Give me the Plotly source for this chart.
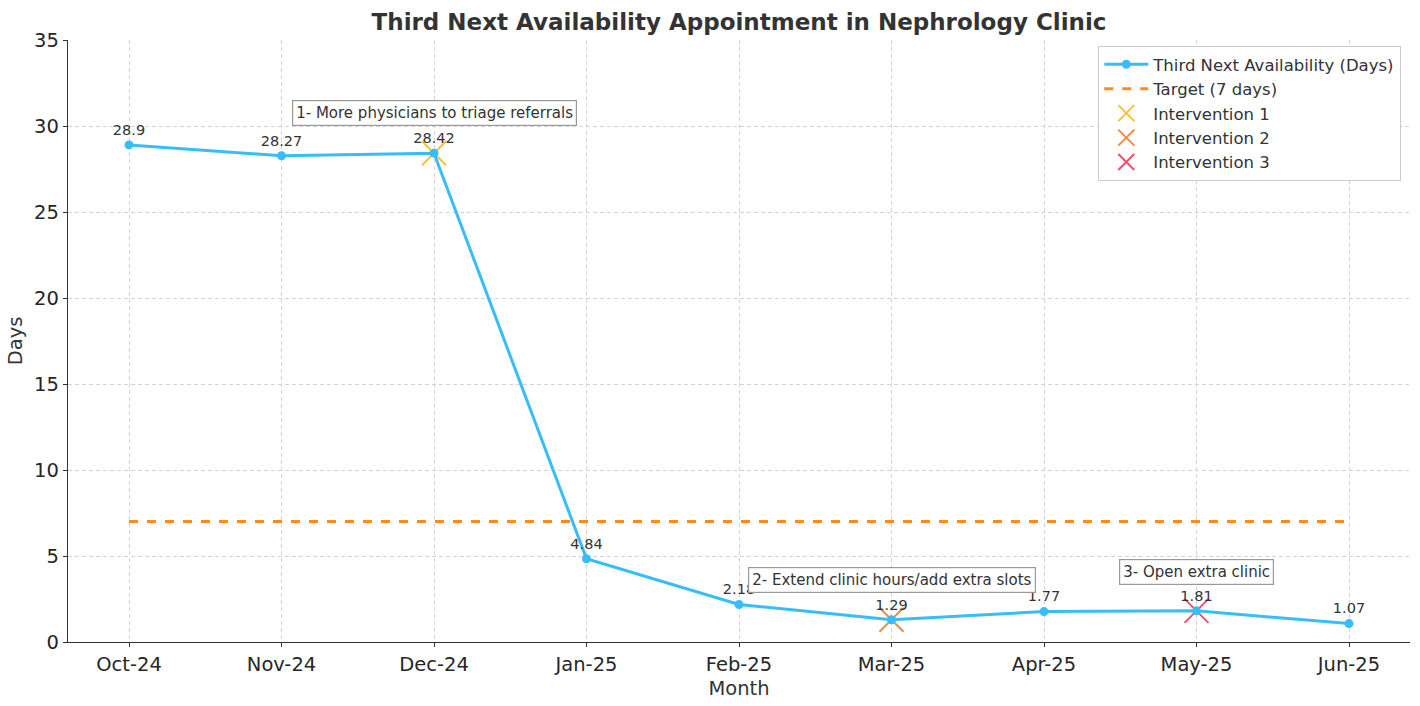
import plotly.graph_objects as go

months = ["Oct-24", "Nov-24", "Dec-24", "Jan-25", "Feb-25", "Mar-25", "Apr-25", "May-25", "Jun-25"]
days = [28.9, 28.27, 28.42, 4.84, 2.18, 1.29, 1.77, 1.81, 1.07]
target = 7
interventions = [
    ("Intervention 1", "Dec-24", 28.42, "1- More physicians to triage referrals", 30.75, "#fbbf3a"),
    ("Intervention 2", "Mar-25", 1.29, "2- Extend clinic hours/add extra slots", 3.6, "#f4874b"),
    ("Intervention 3", "May-25", 1.81, "3- Open extra clinic", 4.07, "#f0506e"),
]

idx = list(range(len(months)))
pos = {m: i for i, m in enumerate(months)}
FONT = "DejaVu Sans"

fig = go.Figure()

# intervention markers (behind the line)
for name, m, v, _, _, col in interventions:
    fig.add_trace(go.Scatter(
        x=[pos[m]], y=[v], mode="markers", name=name,
        marker=dict(symbol="x-thin-open", size=24, color=col, line=dict(color=col, width=2)),
        legendrank=10 + int(name[-1]),
    ))

fig.add_trace(go.Scatter(
    x=idx, y=days, mode="lines+markers+text", name="Third Next Availability (Days)",
    line=dict(color="#38bdf8", width=3),
    marker=dict(size=9, color="#38bdf8"),
    text=[str(d) for d in days], textposition="top center",
    textfont=dict(family=FONT, size=14.5, color="#333333"),
    legendrank=1,
))

fig.add_trace(go.Scatter(
    x=[0, len(months) - 1], y=[target, target], mode="lines", name="Target (7 days)",
    line=dict(color="#ff8c1a", width=3, dash="dash"),
    legendrank=2,
))

for _, m, _, label, ay, _ in interventions:
    fig.add_annotation(
        x=pos[m], y=ay, text=label, showarrow=False,
        font=dict(family=FONT, size=15, color="#333333"),
        bgcolor="white", bordercolor="#999999", borderwidth=1.2, borderpad=3,
    )

fig.update_layout(
    width=1420, height=706,
    margin=dict(l=68, r=10, t=40, b=64, autoexpand=False),
    paper_bgcolor="white", plot_bgcolor="white",
    font=dict(family=FONT, color="#333333"),
    title=dict(text="<b>Third Next Availability Appointment in Nephrology Clinic</b>",
               x=0.5, xref="paper", xanchor="center", y=1 - 22 / 706, yref="container",
               yanchor="middle", automargin=False,
               font=dict(family=FONT, size=23, color="#333333")),
    legend=dict(x=0.9935, xanchor="right", y=0.99, yanchor="top",
                bgcolor="white", bordercolor="#cccccc", borderwidth=1,
                font=dict(family=FONT, size=16.5, color="#333333"),
                tracegroupgap=0, itemwidth=44),
    showlegend=True,
)

axis_common = dict(
    showgrid=True, gridcolor="#d4d4d4", griddash="4px,3px", gridwidth=1,
    showline=True, linecolor="#333333", linewidth=1.3,
    ticks="outside", ticklen=4, tickcolor="#333333",
    tickfont=dict(family=FONT, size=19.5, color="#262626"),
    zeroline=False, automargin=False,
)

fig.update_xaxes(
    range=[-0.4, 8.4], tickmode="array", tickvals=idx, ticktext=months,
    title=dict(text="Month", font=dict(family=FONT, size=19.5, color="#333333"), standoff=6),
    **axis_common,
)
fig.update_yaxes(
    range=[0, 35], tickmode="array", tickvals=[0, 5, 10, 15, 20, 25, 30, 35],
    title=dict(text="Days", font=dict(family=FONT, size=19.5, color="#333333"), standoff=6),
    **axis_common,
)

fig.write_html("out.html", config={"displayModeBar": False},
               post_script="document.body.style.margin='0';document.body.style.overflow='hidden';")
